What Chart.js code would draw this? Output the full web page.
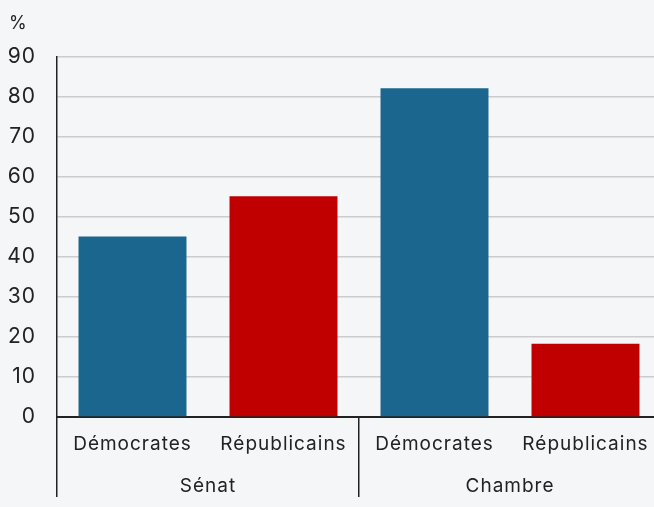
<!DOCTYPE html>
<html>
<head>
<meta charset="utf-8">
<script src="https://cdn.jsdelivr.net/npm/chart.js@4"></script>
<style>
  html, body { margin: 0; padding: 0; background: #f5f6f8; overflow: hidden; }
  #wrap { width: 661px; height: 507px; }
</style>
</head>
<body>
<div id="wrap"><canvas id="chart"></canvas></div>
<script>
const categories = ['Démocrates', 'Républicains', 'Démocrates', 'Républicains'];
const groups = ['Sénat', 'Chambre'];
const values = [45.1, 55.2, 82.2, 18.3];
const yTicks = [0, 10, 20, 30, 40, 50, 60, 70, 80, 90];
const barColors = ['#1b668f', '#c00000', '#1b668f', '#c00000'];

const FONT = 'Inter, "Noto Sans", sans-serif';
const TEXT = '#222222';

// the reference font is wider than Inter, so open the letters a little
const spacing = {
  id: 'spacing',
  beforeDraw(chart) { chart.ctx.letterSpacing = '1px'; }
};

// group labels under the category labels, plus the "%" unit label
const groupLabels = {
  id: 'groupLabels',
  afterDraw(chart) {
    const ctx = chart.ctx;
    const x = chart.scales.x;
    ctx.save();
    ctx.letterSpacing = '1px';
    ctx.fillStyle = TEXT;
    ctx.font = '19px ' + FONT;
    ctx.textAlign = 'center';
    ctx.textBaseline = 'middle';
    groups.forEach((g, i) => {
      const cx = (x.getPixelForValue(i * 2) + x.getPixelForValue(i * 2 + 1)) / 2;
      ctx.fillText(g, cx, 486);
    });
    ctx.textAlign = 'left';
    ctx.font = '18px ' + FONT;
    ctx.fillText('%', 9, 24);
    ctx.restore();
  }
};

new Chart(document.getElementById('chart'), {
  type: 'bar',
  data: {
    labels: categories,
    datasets: [{
      data: values,
      backgroundColor: barColors,
      barPercentage: 0.715,
      categoryPercentage: 1,
    }],
  },
  plugins: [spacing, groupLabels],
  options: {
    responsive: true,
    maintainAspectRatio: false,
    animation: false,
    layout: { padding: { top: 57, left: 0, right: 0, bottom: 0 } },
    plugins: {
      legend: { display: false },
      tooltip: { enabled: false },
    },
    scales: {
      x: {
        afterFit: s => { s.height = 90; },
        grid: {
          offset: true,
          drawOnChartArea: false,
          tickLength: 80,
          lineWidth: 1.5,
          color: c => (c.index === 0 || c.index === 2) ? '#222222' : 'rgba(0,0,0,0)',
        },
        border: { color: '#222222', width: 2 },
        ticks: { color: TEXT, font: { family: FONT, size: 19 }, padding: -64 },
      },
      y: {
        min: 0,
        max: 90,
        afterFit: s => { s.width = 57; },
        afterBuildTicks: s => { s.ticks = yTicks.map(v => ({ value: v })); },
        grid: { color: '#cccccc', lineWidth: 1.5, drawTicks: false },
        border: { color: '#222222', width: 1.5 },
        ticks: { color: TEXT, font: { family: FONT, size: 21 }, padding: 21 },
      },
    },
  },
});
</script>
</body>
</html>
